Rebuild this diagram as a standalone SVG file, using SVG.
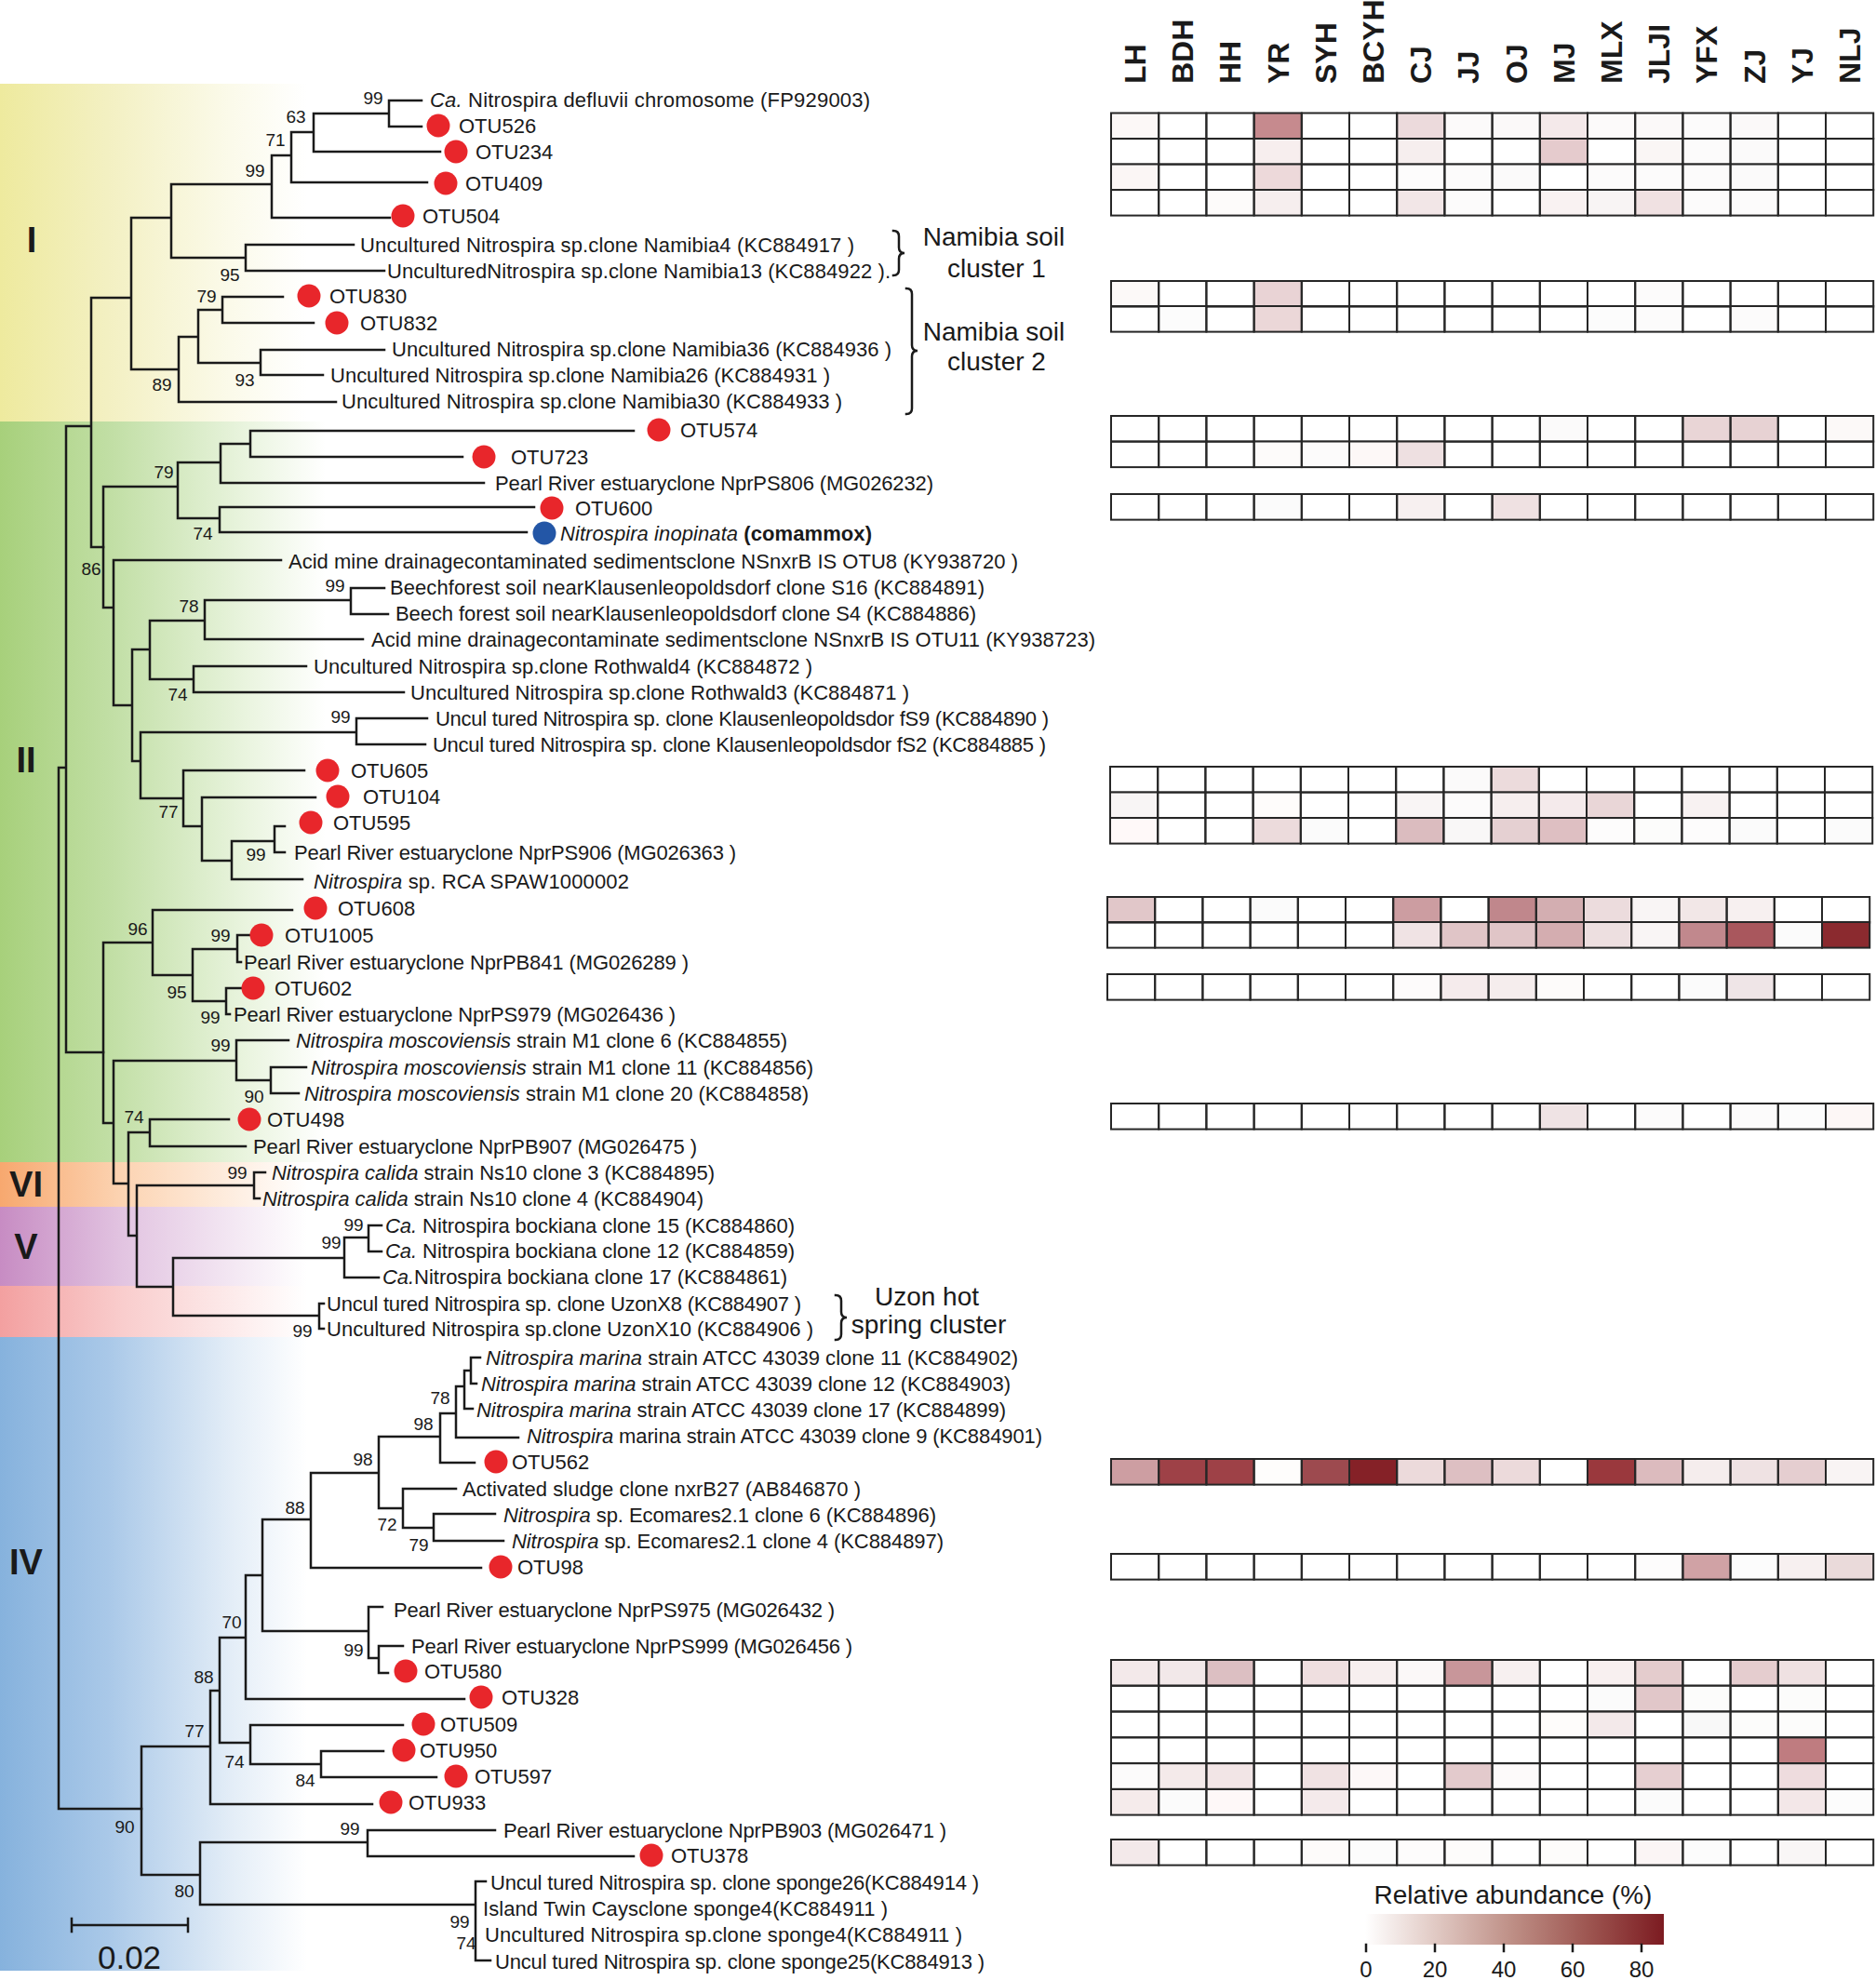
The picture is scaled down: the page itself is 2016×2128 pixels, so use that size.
<svg xmlns="http://www.w3.org/2000/svg" xmlns:xlink="http://www.w3.org/1999/xlink" width="2016" height="2128" viewBox="0 0 2016 2128">
<style>
text{font-family:'Liberation Sans',Arial,sans-serif;fill:#1a1a1a}
.t{font-size:22px}
.bs{font-size:19px;text-anchor:middle}
.br{fill:none;stroke:#1a1a1a;stroke-width:2.5;stroke-linecap:square}
.red{fill:#e8262b}
.blue{fill:#2356a6}
.cell{fill:none;stroke:#262626;stroke-width:2}
.hdr{font-size:32px;font-weight:bold}
.cl{font-size:38px;font-weight:bold;text-anchor:middle}
.lg{font-size:28px}
.i{font-style:italic}
</style>
<defs>
<linearGradient id="gY" gradientUnits="userSpaceOnUse" x1="0" y1="0" x2="330" y2="0"><stop offset="0" stop-color="#eeea9e"/><stop offset="0.35" stop-color="#f3f0c2"/><stop offset="0.75" stop-color="#fbfaea"/><stop offset="1" stop-color="#ffffff"/></linearGradient>
<linearGradient id="gG" gradientUnits="userSpaceOnUse" x1="0" y1="0" x2="350" y2="0"><stop offset="0" stop-color="#a7d07b"/><stop offset="0.35" stop-color="#c2dfa6"/><stop offset="0.75" stop-color="#e9f4de"/><stop offset="1" stop-color="#ffffff"/></linearGradient>
<linearGradient id="gO" gradientUnits="userSpaceOnUse" x1="0" y1="0" x2="330" y2="0"><stop offset="0" stop-color="#f7a86f"/><stop offset="0.4" stop-color="#fcd4b3"/><stop offset="1" stop-color="#ffffff"/></linearGradient>
<linearGradient id="gV" gradientUnits="userSpaceOnUse" x1="0" y1="0" x2="330" y2="0"><stop offset="0" stop-color="#c78cc3"/><stop offset="0.4" stop-color="#e2c4e1"/><stop offset="1" stop-color="#ffffff"/></linearGradient>
<linearGradient id="gP" gradientUnits="userSpaceOnUse" x1="0" y1="0" x2="330" y2="0"><stop offset="0" stop-color="#f3a0a0"/><stop offset="0.4" stop-color="#f9cdcd"/><stop offset="1" stop-color="#ffffff"/></linearGradient>
<linearGradient id="gB" gradientUnits="userSpaceOnUse" x1="0" y1="0" x2="330" y2="0"><stop offset="0" stop-color="#86b2dd"/><stop offset="0.35" stop-color="#a9c8e8"/><stop offset="0.75" stop-color="#e3edf7"/><stop offset="1" stop-color="#ffffff"/></linearGradient>
<linearGradient id="gL" x1="0" y1="0" x2="1" y2="0"><stop offset="0" stop-color="#ffffff"/><stop offset="0.25" stop-color="#dfc6c0"/><stop offset="0.5" stop-color="#bd8d84"/><stop offset="0.75" stop-color="#9d5550"/><stop offset="1" stop-color="#7c1b21"/></linearGradient>
<g id="gr">
<rect class="cell" x="0" width="51.2" height="27.6"/><rect class="cell" x="51.2" width="51.2" height="27.6"/><rect class="cell" x="102.4" width="51.2" height="27.6"/><rect class="cell" x="153.6" width="51.2" height="27.6"/><rect class="cell" x="204.8" width="51.2" height="27.6"/><rect class="cell" x="256" width="51.2" height="27.6"/><rect class="cell" x="307.2" width="51.2" height="27.6"/><rect class="cell" x="358.4" width="51.2" height="27.6"/><rect class="cell" x="409.6" width="51.2" height="27.6"/><rect class="cell" x="460.8" width="51.2" height="27.6"/><rect class="cell" x="512" width="51.2" height="27.6"/><rect class="cell" x="563.2" width="51.2" height="27.6"/><rect class="cell" x="614.4" width="51.2" height="27.6"/><rect class="cell" x="665.6" width="51.2" height="27.6"/><rect class="cell" x="716.8" width="51.2" height="27.6"/><rect class="cell" x="768" width="51.2" height="27.6"/>
</g>
</defs>

<g id="bands">
<rect x="0" y="90" width="340" height="363" fill="url(#gY)"/>
<rect x="0" y="453" width="360" height="796" fill="url(#gG)"/>
<rect x="0" y="1249" width="340" height="48" fill="url(#gO)"/>
<rect x="0" y="1297" width="340" height="85" fill="url(#gV)"/>
<rect x="0" y="1382" width="340" height="55" fill="url(#gP)"/>
<rect x="0" y="1437" width="340" height="681" fill="url(#gB)"/>
</g>

<g id="clade-labels">
<text class="cl" x="34" y="271">I</text>
<text class="cl" x="28" y="830">II</text>
<text class="cl" x="28" y="1286">VI</text>
<text class="cl" x="28" y="1353">V</text>
<text class="cl" x="28" y="1692">IV</text>
</g>

<g id="connectors">
<path class="br" d="M453,108H418V136H453 M418,122H337V163H473 M337,142H313V196H459 M313,167H292V234H419 M292,198H184V277H264 M380,263H264V291H413 M184,234H141V397H192 M213,362H192V432H361 M239,333H213V390H280 M304,319H239V347H337 M413,376H280V403H347 M141,320H98V588H111 M98,458H71V1131H111 M71,825H63V1944H152"/>
<path class="br" d="M191,523H111V653H122 M237,497H191V557H236 M269,477H237V519H520 M681,463H269V491H497 M574,545H236V572H566 M302,602H122V758H142 M161,698H142V818H151 M220,667H161V730H208 M377,645H220V687H390 M413,632H377V660H417 M329,716H208V744H434 M383,787H151V858H197 M459,772H383V800H457 M327,828H197V888H217 M339,857H217V925H249 M295,904H249V945H325 M306,888H295V916H306"/>
<path class="br" d="M164,1013H111V1207H122 M314,978H164V1048H207 M255,1020H207V1076H243 M268,1005H255V1034H259 M259,1062H243V1090H247 M254,1140H122V1272H138 M310,1118H254V1161H291 M329,1147H291V1175H321 M161,1217H138V1328H147 M246,1203H161V1232H264 M273,1274H147V1383H186 M285,1260H273V1288H279 M370,1352H186V1414H343 M396,1330H370V1373H407 M410,1317H396V1345H410 M348,1401H343V1428H348"/>
<path class="br" d="M226,1877H152V2015H215 M236,1817H226V1939H400 M264,1760H236V1873H269 M282,1693H264V1826H499 M334,1633H282V1753H396 M411,1727H396V1782H407 M433,1769H407V1798H417 M407,1583H334V1685H517 M473,1544H407V1621H433 M490,1519H473V1572H510 M499,1490H490V1545H557 M506,1473H499V1514H508 M516,1459H506V1487H512 M490,1600H433V1642H466 M532,1627H466V1656H541 M433,1854H269V1896H345 M412,1882H345V1910H469 M395,1980H215V2047H511 M532,1967H395V1995H681 M522,2022H511V2107H527"/>
<path class="br" d="M77,2069H202 M77,2062V2076 M202,2062V2076"/>
<path class="br" stroke-width="2" d="M960,248Q966,248 966,254L966,266Q966,272 972,272Q966,272 966,278L966,290Q966,296 960,296"/>
<path class="br" stroke-width="2" d="M974,310Q980,310 980,316L980,371Q980,377 986,377Q980,377 980,383L980,439Q980,445 974,445"/>
<path class="br" stroke-width="2" d="M898,1392Q904,1392 904,1398L904,1410Q904,1416 910,1416Q904,1416 904,1422L904,1434Q904,1440 898,1440"/>
</g>

<g id="bootstrap">
<text class="bs" x="401" y="112">99</text><text class="bs" x="318" y="132">63</text><text class="bs" x="296" y="157">71</text><text class="bs" x="274" y="190">99</text><text class="bs" x="247" y="302">95</text><text class="bs" x="222" y="325">79</text><text class="bs" x="263" y="415">93</text><text class="bs" x="174" y="420">89</text>
<text class="bs" x="176" y="514">79</text><text class="bs" x="218" y="580">74</text><text class="bs" x="98" y="618">86</text><text class="bs" x="360" y="636">99</text><text class="bs" x="203" y="658">78</text><text class="bs" x="191" y="753">74</text><text class="bs" x="366" y="777">99</text><text class="bs" x="181" y="879">77</text><text class="bs" x="275" y="925">99</text><text class="bs" x="148" y="1005">96</text><text class="bs" x="237" y="1012">99</text><text class="bs" x="190" y="1073">95</text><text class="bs" x="226" y="1100">99</text><text class="bs" x="237" y="1130">99</text><text class="bs" x="273" y="1185">90</text><text class="bs" x="144" y="1207">74</text>
<text class="bs" x="255" y="1267">99</text><text class="bs" x="380" y="1323">99</text><text class="bs" x="356" y="1342">99</text><text class="bs" x="325" y="1437">99</text>
<text class="bs" x="473" y="1509">78</text><text class="bs" x="455" y="1537">98</text><text class="bs" x="390" y="1575">98</text><text class="bs" x="317" y="1627">88</text><text class="bs" x="416" y="1645">72</text><text class="bs" x="450" y="1667">79</text><text class="bs" x="249" y="1750">70</text><text class="bs" x="380" y="1780">99</text><text class="bs" x="219" y="1809">88</text><text class="bs" x="209" y="1867">77</text><text class="bs" x="252" y="1900">74</text><text class="bs" x="328" y="1920">84</text><text class="bs" x="134" y="1970">90</text><text class="bs" x="376" y="1972">99</text><text class="bs" x="198" y="2039">80</text><text class="bs" x="494" y="2072">99</text><text class="bs" x="501" y="2095">74</text>
</g>

<g id="leaves">
<g id="n-defluvii"><text class="t" x="462" y="115" textLength="473"><tspan class="i">Ca.</tspan> Nitrospira defluvii chromosome (FP929003)</text></g>
<g id="n-OTU526"><circle class="red" cx="471" cy="135" r="12.5"/><text class="t" x="493" y="143">OTU526</text></g>
<g id="n-OTU234"><circle class="red" cx="490" cy="163" r="12.5"/><text class="t" x="511" y="171">OTU234</text></g>
<g id="n-OTU409"><circle class="red" cx="479" cy="197" r="12.5"/><text class="t" x="500" y="205">OTU409</text></g>
<g id="n-OTU504"><circle class="red" cx="433" cy="232" r="12.5"/><text class="t" x="454" y="240">OTU504</text></g>
<g id="n-Namibia4"><text class="t" x="387" y="271" textLength="531">Uncultured Nitrospira sp.clone Namibia4 (KC884917 )</text></g>
<g id="n-Namibia13"><text class="t" x="416" y="299" textLength="541">UnculturedNitrospira sp.clone Namibia13 (KC884922 ).</text></g>
<g id="n-OTU830"><circle class="red" cx="332" cy="318" r="12.5"/><text class="t" x="354" y="326">OTU830</text></g>
<g id="n-OTU832"><circle class="red" cx="362" cy="347" r="12.5"/><text class="t" x="387" y="355">OTU832</text></g>
<g id="n-Namibia36"><text class="t" x="421" y="383" textLength="537">Uncultured Nitrospira sp.clone Namibia36 (KC884936 )</text></g>
<g id="n-Namibia26"><text class="t" x="355" y="411" textLength="537">Uncultured Nitrospira sp.clone Namibia26 (KC884931 )</text></g>
<g id="n-Namibia30"><text class="t" x="367" y="439" textLength="538">Uncultured Nitrospira sp.clone Namibia30 (KC884933 )</text></g>
<g id="n-OTU574"><circle class="red" cx="708" cy="462" r="12.5"/><text class="t" x="731" y="470">OTU574</text></g>
<g id="n-OTU723"><circle class="red" cx="520" cy="491" r="12.5"/><text class="t" x="549" y="499">OTU723</text></g>
<g id="n-NprPS806"><text class="t" x="532" y="527" textLength="471">Pearl River estuaryclone NprPS806 (MG026232)</text></g>
<g id="n-OTU600"><circle class="red" cx="593" cy="546" r="12.5"/><text class="t" x="618" y="554">OTU600</text></g>
<g id="n-inopinata"><circle class="blue" cx="585" cy="573" r="12.5"/><text class="t" x="602" y="581" textLength="335"><tspan class="i">Nitrospira inopinata</tspan> <tspan font-weight="bold">(comammox)</tspan></text></g>
<g id="n-AcidOTU8"><text class="t" x="310" y="611" textLength="784">Acid mine drainagecontaminated sedimentsclone NSnxrB IS OTU8 (KY938720 )</text></g>
<g id="n-BeechS16"><text class="t" x="419" y="639" textLength="639">Beechforest soil nearKlausenleopoldsdorf clone S16 (KC884891)</text></g>
<g id="n-BeechS4"><text class="t" x="425" y="667" textLength="624">Beech forest soil nearKlausenleopoldsdorf clone S4 (KC884886)</text></g>
<g id="n-AcidOTU11"><text class="t" x="399" y="695" textLength="778">Acid mine drainagecontaminate sedimentsclone NSnxrB IS OTU11 (KY938723)</text></g>
<g id="n-Rothwald4"><text class="t" x="337" y="724" textLength="536">Uncultured Nitrospira sp.clone Rothwald4 (KC884872 )</text></g>
<g id="n-Rothwald3"><text class="t" x="441" y="752" textLength="536">Uncultured Nitrospira sp.clone Rothwald3 (KC884871 )</text></g>
<g id="n-fS9"><text class="t" x="468" y="780" textLength="659">Uncul tured Nitrospira sp. clone Klausenleopoldsdor fS9 (KC884890 )</text></g>
<g id="n-fS2"><text class="t" x="465" y="808" textLength="659">Uncul tured Nitrospira sp. clone Klausenleopoldsdor fS2 (KC884885 )</text></g>
<g id="n-OTU605"><circle class="red" cx="352" cy="828" r="12.5"/><text class="t" x="377" y="836">OTU605</text></g>
<g id="n-OTU104"><circle class="red" cx="363" cy="856" r="12.5"/><text class="t" x="390" y="864">OTU104</text></g>
<g id="n-OTU595"><circle class="red" cx="334" cy="884" r="12.5"/><text class="t" x="358" y="892">OTU595</text></g>
<g id="n-NprPS906"><text class="t" x="316" y="924" textLength="475">Pearl River estuaryclone NprPS906 (MG026363 )</text></g>
<g id="n-RCA"><text class="t" x="337" y="955" textLength="339"><tspan class="i">Nitrospira</tspan> sp. RCA SPAW1000002</text></g>
<g id="n-OTU608"><circle class="red" cx="339" cy="976" r="12.5"/><text class="t" x="363" y="984">OTU608</text></g>
<g id="n-OTU1005"><circle class="red" cx="281" cy="1005" r="12.5"/><text class="t" x="306" y="1013">OTU1005</text></g>
<g id="n-NprPB841"><text class="t" x="262" y="1042" textLength="478">Pearl River estuaryclone NprPB841 (MG026289 )</text></g>
<g id="n-OTU602"><circle class="red" cx="272" cy="1062" r="12.5"/><text class="t" x="295" y="1070">OTU602</text></g>
<g id="n-NprPS979"><text class="t" x="251" y="1098" textLength="475">Pearl River estuaryclone NprPS979 (MG026436 )</text></g>
<g id="n-mosc6"><text class="t" x="318" y="1126" textLength="528"><tspan class="i">Nitrospira moscoviensis</tspan> strain M1 clone 6 (KC884855)</text></g>
<g id="n-mosc11"><text class="t" x="334" y="1155" textLength="540"><tspan class="i">Nitrospira moscoviensis</tspan> strain M1 clone 11 (KC884856)</text></g>
<g id="n-mosc20"><text class="t" x="327" y="1183" textLength="542"><tspan class="i">Nitrospira moscoviensis</tspan> strain M1 clone 20 (KC884858)</text></g>
<g id="n-OTU498"><circle class="red" cx="268" cy="1203" r="12.5"/><text class="t" x="287" y="1211">OTU498</text></g>
<g id="n-NprPB907"><text class="t" x="272" y="1240" textLength="477">Pearl River estuaryclone NprPB907 (MG026475 )</text></g>
<g id="n-calida3"><text class="t" x="292" y="1268" textLength="476"><tspan class="i">Nitrospira calida</tspan> strain Ns10 clone 3 (KC884895)</text></g>
<g id="n-calida4"><text class="t" x="282" y="1296" textLength="474"><tspan class="i">Nitrospira calida</tspan> strain Ns10 clone 4 (KC884904)</text></g>
<g id="n-bock15"><text class="t" x="414" y="1325" textLength="440"><tspan class="i">Ca.</tspan> Nitrospira bockiana clone 15 (KC884860)</text></g>
<g id="n-bock12"><text class="t" x="414" y="1352" textLength="440"><tspan class="i">Ca.</tspan> Nitrospira bockiana clone 12 (KC884859)</text></g>
<g id="n-bock17"><text class="t" x="411" y="1380" textLength="435"><tspan class="i">Ca.</tspan>Nitrospira bockiana clone 17 (KC884861)</text></g>
<g id="n-UzonX8"><text class="t" x="351" y="1409" textLength="510">Uncul tured Nitrospira sp. clone UzonX8 (KC884907 )</text></g>
<g id="n-UzonX10"><text class="t" x="351" y="1436" textLength="523">Uncultured Nitrospira sp.clone UzonX10 (KC884906 )</text></g>
<g id="n-marina11"><text class="t" x="522" y="1467" textLength="572"><tspan class="i">Nitrospira marina</tspan> strain ATCC 43039 clone 11 (KC884902)</text></g>
<g id="n-marina12"><text class="t" x="517" y="1495" textLength="569"><tspan class="i">Nitrospira marina</tspan> strain ATCC 43039 clone 12 (KC884903)</text></g>
<g id="n-marina17"><text class="t" x="512" y="1523" textLength="569"><tspan class="i">Nitrospira marina</tspan> strain ATCC 43039 clone 17 (KC884899)</text></g>
<g id="n-marina9"><text class="t" x="566" y="1551" textLength="554"><tspan class="i">Nitrospira</tspan> marina strain ATCC 43039 clone 9 (KC884901)</text></g>
<g id="n-OTU562"><circle class="red" cx="533" cy="1571" r="12.5"/><text class="t" x="550" y="1579">OTU562</text></g>
<g id="n-activated"><text class="t" x="497" y="1608" textLength="428">Activated sludge clone nxrB27 (AB846870 )</text></g>
<g id="n-ecom6"><text class="t" x="541" y="1636" textLength="465"><tspan class="i">Nitrospira</tspan> sp. Ecomares2.1 clone 6 (KC884896)</text></g>
<g id="n-ecom4"><text class="t" x="550" y="1664" textLength="464"><tspan class="i">Nitrospira</tspan> sp. Ecomares2.1 clone 4 (KC884897)</text></g>
<g id="n-OTU98"><circle class="red" cx="538" cy="1684" r="12.5"/><text class="t" x="556" y="1692">OTU98</text></g>
<g id="n-NprPS975"><text class="t" x="423" y="1738" textLength="474">Pearl River estuaryclone NprPS975 (MG026432 )</text></g>
<g id="n-NprPS999"><text class="t" x="442" y="1777" textLength="474">Pearl River estuaryclone NprPS999 (MG026456 )</text></g>
<g id="n-OTU580"><circle class="red" cx="436" cy="1796" r="12.5"/><text class="t" x="456" y="1804">OTU580</text></g>
<g id="n-OTU328"><circle class="red" cx="517" cy="1824" r="12.5"/><text class="t" x="539" y="1832">OTU328</text></g>
<g id="n-OTU509"><circle class="red" cx="455" cy="1853" r="12.5"/><text class="t" x="473" y="1861">OTU509</text></g>
<g id="n-OTU950"><circle class="red" cx="434" cy="1881" r="12.5"/><text class="t" x="451" y="1889">OTU950</text></g>
<g id="n-OTU597"><circle class="red" cx="490" cy="1909" r="12.5"/><text class="t" x="510" y="1917">OTU597</text></g>
<g id="n-OTU933"><circle class="red" cx="420" cy="1937" r="12.5"/><text class="t" x="439" y="1945">OTU933</text></g>
<g id="n-NprPB903"><text class="t" x="541" y="1975" textLength="476">Pearl River estuaryclone NprPB903 (MG026471 )</text></g>
<g id="n-OTU378"><circle class="red" cx="700" cy="1994" r="12.5"/><text class="t" x="721" y="2002">OTU378</text></g>
<g id="n-sponge26"><text class="t" x="527" y="2031" textLength="525">Uncul tured Nitrospira sp. clone sponge26(KC884914 )</text></g>
<g id="n-island"><text class="t" x="519" y="2059" textLength="435">Island Twin Caysclone sponge4(KC884911 )</text></g>
<g id="n-sponge4"><text class="t" x="521" y="2087" textLength="513">Uncultured Nitrospira sp.clone sponge4(KC884911 )</text></g>
<g id="n-sponge25"><text class="t" x="532" y="2116" textLength="526">Uncul tured Nitrospira sp. clone sponge25(KC884913 )</text></g>
</g>

<g id="brackets-text">
<text class="lg" x="1068" y="264" text-anchor="middle">Namibia soil</text>
<text class="lg" x="1071" y="298" text-anchor="middle">cluster 1</text>
<text class="lg" x="1068" y="366" text-anchor="middle">Namibia soil</text>
<text class="lg" x="1071" y="398" text-anchor="middle">cluster 2</text>
<text class="lg" x="996" y="1403" text-anchor="middle">Uzon hot</text>
<text class="lg" x="998" y="1433" text-anchor="middle">spring cluster</text>
</g>

<g id="scale">
<text x="139" y="2116" font-size="35" text-anchor="middle">0.02</text>
</g>

<g id="headers">
<text class="hdr" transform="translate(1231,90) rotate(-90)">LH</text>
<text class="hdr" transform="translate(1282,90) rotate(-90)">BDH</text>
<text class="hdr" transform="translate(1333,90) rotate(-90)">HH</text>
<text class="hdr" transform="translate(1385,90) rotate(-90)">YR</text>
<text class="hdr" transform="translate(1436,90) rotate(-90)">SYH</text>
<text class="hdr" transform="translate(1487,90) rotate(-90)">BCYH</text>
<text class="hdr" transform="translate(1538,90) rotate(-90)">CJ</text>
<text class="hdr" transform="translate(1589,90) rotate(-90)">JJ</text>
<text class="hdr" transform="translate(1641,90) rotate(-90)">OJ</text>
<text class="hdr" transform="translate(1692,90) rotate(-90)">MJ</text>
<text class="hdr" transform="translate(1743,90) rotate(-90)">MLX</text>
<text class="hdr" transform="translate(1794,90) rotate(-90)">JLJI</text>
<text class="hdr" transform="translate(1845,90) rotate(-90)">YFX</text>
<text class="hdr" transform="translate(1897,90) rotate(-90)">ZJ</text>
<text class="hdr" transform="translate(1948,90) rotate(-90)">YJ</text>
<text class="hdr" transform="translate(1999,90) rotate(-90)">NLJ</text>
</g>

<g id="heatmap">
<g transform="translate(1194,121.5)"><rect x="0" width="51.2" height="27.6" fill="#fcf8f7"/><rect x="153.6" width="51.2" height="27.6" fill="#c68a8e"/><rect x="307.2" width="51.2" height="27.6" fill="#ecdadc"/><rect x="358.4" width="51.2" height="27.6" fill="#fcfafa"/><rect x="409.6" width="51.2" height="27.6" fill="#fbf9f9"/><rect x="460.8" width="51.2" height="27.6" fill="#f4e9ea"/><rect x="512" width="51.2" height="27.6" fill="#fcfafa"/><rect x="563.2" width="51.2" height="27.6" fill="#fbf9f9"/><rect x="614.4" width="51.2" height="27.6" fill="#fcfbfb"/><rect x="665.6" width="51.2" height="27.6" fill="#fbf9f9"/><use xlink:href="#gr"/></g>
<g transform="translate(1194,149)"><rect x="153.6" width="51.2" height="27.6" fill="#f7eeee"/><rect x="307.2" width="51.2" height="27.6" fill="#f6eeee"/><rect x="460.8" width="51.2" height="27.6" fill="#e5cbcd"/><rect x="563.2" width="51.2" height="27.6" fill="#faf6f5"/><rect x="614.4" width="51.2" height="27.6" fill="#fcfbfb"/><rect x="665.6" width="51.2" height="27.6" fill="#fbfafa"/><use xlink:href="#gr"/></g>
<g transform="translate(1194,176.5)"><rect x="0" width="51.2" height="27.6" fill="#fbf6f5"/><rect x="153.6" width="51.2" height="27.6" fill="#edd9da"/><rect x="307.2" width="51.2" height="27.6" fill="#fdfcfc"/><rect x="358.4" width="51.2" height="27.6" fill="#fcfbfb"/><rect x="409.6" width="51.2" height="27.6" fill="#fbfafa"/><rect x="512" width="51.2" height="27.6" fill="#fcfbfb"/><rect x="563.2" width="51.2" height="27.6" fill="#fcfbfb"/><rect x="614.4" width="51.2" height="27.6" fill="#fcfbfb"/><rect x="665.6" width="51.2" height="27.6" fill="#fbfafa"/><use xlink:href="#gr"/></g>
<g transform="translate(1194,204)"><rect x="102.4" width="51.2" height="27.6" fill="#fdfbfa"/><rect x="153.6" width="51.2" height="27.6" fill="#f6eeee"/><rect x="307.2" width="51.2" height="27.6" fill="#f2e6e7"/><rect x="358.4" width="51.2" height="27.6" fill="#fcfbfb"/><rect x="460.8" width="51.2" height="27.6" fill="#f9f2f2"/><rect x="512" width="51.2" height="27.6" fill="#f8f4f4"/><rect x="563.2" width="51.2" height="27.6" fill="#f0e1e2"/><rect x="614.4" width="51.2" height="27.6" fill="#fcfbfb"/><rect x="665.6" width="51.2" height="27.6" fill="#fcfbfb"/><use xlink:href="#gr"/></g>

<g transform="translate(1194,302)"><rect x="0" width="51.2" height="27.6" fill="#fcf9f8"/><rect x="153.6" width="51.2" height="27.6" fill="#e9d3d5"/><rect x="563.2" width="51.2" height="27.6" fill="#fcfbfb"/><use xlink:href="#gr"/></g>
<g transform="translate(1194,329)"><rect x="51.2" width="51.2" height="27.6" fill="#fcfcfc"/><rect x="153.6" width="51.2" height="27.6" fill="#ebd7d8"/><rect x="512" width="51.2" height="27.6" fill="#fcfcfc"/><rect x="563.2" width="51.2" height="27.6" fill="#fcfbfb"/><rect x="665.6" width="51.2" height="27.6" fill="#fcfbfb"/><use xlink:href="#gr"/></g>

<g transform="translate(1194,447)"><rect x="460.8" width="51.2" height="27.6" fill="#fbfafa"/><rect x="614.4" width="51.2" height="27.6" fill="#e9d5d6"/><rect x="665.6" width="51.2" height="27.6" fill="#e7d2d3"/><rect x="768" width="51.2" height="27.6" fill="#fcf9f8"/><use xlink:href="#gr"/></g>
<g transform="translate(1194,474.5)"><rect x="153.6" width="51.2" height="27.6" fill="#fdfbfa"/><rect x="204.8" width="51.2" height="27.6" fill="#fcfbfb"/><rect x="256" width="51.2" height="27.6" fill="#fdf8f7"/><rect x="307.2" width="51.2" height="27.6" fill="#eee0e1"/><use xlink:href="#gr"/></g>

<g transform="translate(1194,531)"><rect x="153.6" width="51.2" height="27.6" fill="#fbfbfb"/><rect x="307.2" width="51.2" height="27.6" fill="#f7f0f0"/><rect x="409.6" width="51.2" height="27.6" fill="#efe1e2"/><use xlink:href="#gr"/></g>

<g transform="translate(1193,824)"><rect x="358.4" width="51.2" height="27.6" fill="#fbfafa"/><rect x="409.6" width="51.2" height="27.6" fill="#ecdbdc"/><use xlink:href="#gr"/></g>
<g transform="translate(1193,851.5)"><rect x="0" width="51.2" height="27.6" fill="#f8f5f5"/><rect x="153.6" width="51.2" height="27.6" fill="#fefcfb"/><rect x="307.2" width="51.2" height="27.6" fill="#f9f5f5"/><rect x="358.4" width="51.2" height="27.6" fill="#fcfbfb"/><rect x="409.6" width="51.2" height="27.6" fill="#f6eeee"/><rect x="460.8" width="51.2" height="27.6" fill="#f4eaeb"/><rect x="512" width="51.2" height="27.6" fill="#e9d6d7"/><rect x="614.4" width="51.2" height="27.6" fill="#f8f2f2"/><use xlink:href="#gr"/></g>
<g transform="translate(1193,879)"><rect x="0" width="51.2" height="27.6" fill="#fff9f9"/><rect x="153.6" width="51.2" height="27.6" fill="#ecdbdc"/><rect x="204.8" width="51.2" height="27.6" fill="#fbfbfb"/><rect x="307.2" width="51.2" height="27.6" fill="#dbbcbf"/><rect x="358.4" width="51.2" height="27.6" fill="#f9f7f7"/><rect x="409.6" width="51.2" height="27.6" fill="#e5d0d2"/><rect x="460.8" width="51.2" height="27.6" fill="#debfc2"/><rect x="512" width="51.2" height="27.6" fill="#fdfcfc"/><rect x="563.2" width="51.2" height="27.6" fill="#fcfcfb"/><rect x="614.4" width="51.2" height="27.6" fill="#fdfcfc"/><rect x="665.6" width="51.2" height="27.6" fill="#fbfbfb"/><rect x="768" width="51.2" height="27.6" fill="#fbfbfb"/><use xlink:href="#gr"/></g>

<g transform="translate(1190,964)"><rect x="0" width="51.2" height="27.6" fill="#e1c7c9"/><rect x="153.6" width="51.2" height="27.6" fill="#fbfbfb"/><rect x="307.2" width="51.2" height="27.6" fill="#cc9da1"/><rect x="409.6" width="51.2" height="27.6" fill="#c0878c"/><rect x="460.8" width="51.2" height="27.6" fill="#d3aeb1"/><rect x="512" width="51.2" height="27.6" fill="#ecdcdd"/><rect x="563.2" width="51.2" height="27.6" fill="#f9f5f5"/><rect x="614.4" width="51.2" height="27.6" fill="#f2e7e7"/><rect x="665.6" width="51.2" height="27.6" fill="#f7f0f0"/><use xlink:href="#gr"/></g>
<g transform="translate(1190,991)"><rect x="307.2" width="51.2" height="27.6" fill="#f0e3e4"/><rect x="358.4" width="51.2" height="27.6" fill="#e0c5c7"/><rect x="409.6" width="51.2" height="27.6" fill="#e0c5c7"/><rect x="460.8" width="51.2" height="27.6" fill="#d4adb0"/><rect x="512" width="51.2" height="27.6" fill="#eddfe0"/><rect x="563.2" width="51.2" height="27.6" fill="#f9f5f5"/><rect x="614.4" width="51.2" height="27.6" fill="#c1888d"/><rect x="665.6" width="51.2" height="27.6" fill="#a9575d"/><rect x="716.8" width="51.2" height="27.6" fill="#fbfbfb"/><rect x="768" width="51.2" height="27.6" fill="#8b2a2f"/><use xlink:href="#gr"/></g>

<g transform="translate(1190,1047)"><rect x="307.2" width="51.2" height="27.6" fill="#fdfbfb"/><rect x="358.4" width="51.2" height="27.6" fill="#f5ebec"/><rect x="409.6" width="51.2" height="27.6" fill="#f5eded"/><rect x="460.8" width="51.2" height="27.6" fill="#fdfbfa"/><rect x="614.4" width="51.2" height="27.6" fill="#fbfbfb"/><rect x="665.6" width="51.2" height="27.6" fill="#efe5e7"/><use xlink:href="#gr"/></g>

<g transform="translate(1194,1186)"><rect x="460.8" width="51.2" height="27.6" fill="#efe3e4"/><rect x="563.2" width="51.2" height="27.6" fill="#fcfbfb"/><rect x="665.6" width="51.2" height="27.6" fill="#fcfbfb"/><rect x="716.8" width="51.2" height="27.6" fill="#fcfcfc"/><rect x="768" width="51.2" height="27.6" fill="#fdf7f6"/><use xlink:href="#gr"/></g>

<g transform="translate(1194,1568)"><rect x="0" width="51.2" height="27.6" fill="#cd9ea2"/><rect x="51.2" width="51.2" height="27.6" fill="#9e4147"/><rect x="102.4" width="51.2" height="27.6" fill="#9e4147"/><rect x="153.6" width="51.2" height="27.6" fill="#fefdfc"/><rect x="204.8" width="51.2" height="27.6" fill="#9d4a4f"/><rect x="256" width="51.2" height="27.6" fill="#852127"/><rect x="307.2" width="51.2" height="27.6" fill="#ecdadb"/><rect x="358.4" width="51.2" height="27.6" fill="#ddbfc2"/><rect x="409.6" width="51.2" height="27.6" fill="#ecdadb"/><rect x="512" width="51.2" height="27.6" fill="#9a383d"/><rect x="563.2" width="51.2" height="27.6" fill="#dcbbbe"/><rect x="614.4" width="51.2" height="27.6" fill="#f5eded"/><rect x="665.6" width="51.2" height="27.6" fill="#efe2e3"/><rect x="716.8" width="51.2" height="27.6" fill="#e5ced0"/><rect x="768" width="51.2" height="27.6" fill="#f9f4f4"/><use xlink:href="#gr"/></g>

<g transform="translate(1194,1670)"><rect x="563.2" width="51.2" height="27.6" fill="#fdfcfc"/><rect x="614.4" width="51.2" height="27.6" fill="#d0a2a5"/><rect x="665.6" width="51.2" height="27.6" fill="#fcfcfc"/><rect x="716.8" width="51.2" height="27.6" fill="#f7f0f0"/><rect x="768" width="51.2" height="27.6" fill="#eadada"/><use xlink:href="#gr"/></g>

<g transform="translate(1194,1784)"><rect x="0" width="51.2" height="27.6" fill="#f3e9ea"/><rect x="51.2" width="51.2" height="27.6" fill="#f2e8e9"/><rect x="102.4" width="51.2" height="27.6" fill="#dcbfc2"/><rect x="204.8" width="51.2" height="27.6" fill="#efdfe0"/><rect x="256" width="51.2" height="27.6" fill="#f7efef"/><rect x="307.2" width="51.2" height="27.6" fill="#fbf8f8"/><rect x="358.4" width="51.2" height="27.6" fill="#c8969a"/><rect x="409.6" width="51.2" height="27.6" fill="#f7f0f0"/><rect x="512" width="51.2" height="27.6" fill="#f8f0f0"/><rect x="563.2" width="51.2" height="27.6" fill="#e4cccd"/><rect x="665.6" width="51.2" height="27.6" fill="#e5cdcf"/><rect x="716.8" width="51.2" height="27.6" fill="#efe1e2"/><use xlink:href="#gr"/></g>
<g transform="translate(1194,1811.8)"><rect x="512" width="51.2" height="27.6" fill="#fbfbfb"/><rect x="563.2" width="51.2" height="27.6" fill="#e1c7c9"/><rect x="614.4" width="51.2" height="27.6" fill="#fcfcfb"/><rect x="716.8" width="51.2" height="27.6" fill="#fcfcfb"/><use xlink:href="#gr"/></g>
<g transform="translate(1194,1839.6)"><rect x="460.8" width="51.2" height="27.6" fill="#fefcfb"/><rect x="512" width="51.2" height="27.6" fill="#f3e9ea"/><rect x="614.4" width="51.2" height="27.6" fill="#f8f8f8"/><rect x="665.6" width="51.2" height="27.6" fill="#fcfcfb"/><rect x="716.8" width="51.2" height="27.6" fill="#fcfcfb"/><use xlink:href="#gr"/></g>
<g transform="translate(1194,1867.4)"><rect x="716.8" width="51.2" height="27.6" fill="#bf7c80"/><use xlink:href="#gr"/></g>
<g transform="translate(1194,1895.2)"><rect x="0" width="51.2" height="27.6" fill="#fcfbfb"/><rect x="51.2" width="51.2" height="27.6" fill="#f4eaea"/><rect x="102.4" width="51.2" height="27.6" fill="#f2e5e6"/><rect x="204.8" width="51.2" height="27.6" fill="#f0e2e3"/><rect x="256" width="51.2" height="27.6" fill="#fdf8f8"/><rect x="358.4" width="51.2" height="27.6" fill="#e3cacc"/><rect x="409.6" width="51.2" height="27.6" fill="#fdfafa"/><rect x="563.2" width="51.2" height="27.6" fill="#e6cfd1"/><rect x="716.8" width="51.2" height="27.6" fill="#eedcde"/><use xlink:href="#gr"/></g>
<g transform="translate(1194,1923)"><rect x="0" width="51.2" height="27.6" fill="#f5ebeb"/><rect x="51.2" width="51.2" height="27.6" fill="#fbfbfb"/><rect x="102.4" width="51.2" height="27.6" fill="#fef8f8"/><rect x="204.8" width="51.2" height="27.6" fill="#f4eaeb"/><rect x="563.2" width="51.2" height="27.6" fill="#fbfbfb"/><rect x="716.8" width="51.2" height="27.6" fill="#f3e7e8"/><rect x="768" width="51.2" height="27.6" fill="#fcfcfc"/><use xlink:href="#gr"/></g>

<g transform="translate(1194,1977)"><rect x="0" width="51.2" height="27.6" fill="#f3e9ea"/><rect x="204.8" width="51.2" height="27.6" fill="#fdfbfa"/><rect x="256" width="51.2" height="27.6" fill="#fcfcfc"/><rect x="307.2" width="51.2" height="27.6" fill="#fdfcfc"/><rect x="358.4" width="51.2" height="27.6" fill="#fdfcfb"/><rect x="460.8" width="51.2" height="27.6" fill="#fdfcfb"/><rect x="563.2" width="51.2" height="27.6" fill="#fbf5f5"/><rect x="614.4" width="51.2" height="27.6" fill="#fcfcfc"/><rect x="716.8" width="51.2" height="27.6" fill="#f9f6f6"/><use xlink:href="#gr"/></g>
</g>

<g id="legend">
<text class="lg" x="1626" y="2046" text-anchor="middle">Relative abundance (%)</text>
<rect x="1467" y="2057" width="321" height="33" fill="url(#gL)"/>
<path class="br" d="M1468,2090V2097 M1542,2090V2097 M1616,2090V2097 M1690,2090V2097 M1764,2090V2097"/>
<text x="1468" y="2125" font-size="24" text-anchor="middle">0</text>
<text x="1542" y="2125" font-size="24" text-anchor="middle">20</text>
<text x="1616" y="2125" font-size="24" text-anchor="middle">40</text>
<text x="1690" y="2125" font-size="24" text-anchor="middle">60</text>
<text x="1764" y="2125" font-size="24" text-anchor="middle">80</text>
</g>
</svg>
